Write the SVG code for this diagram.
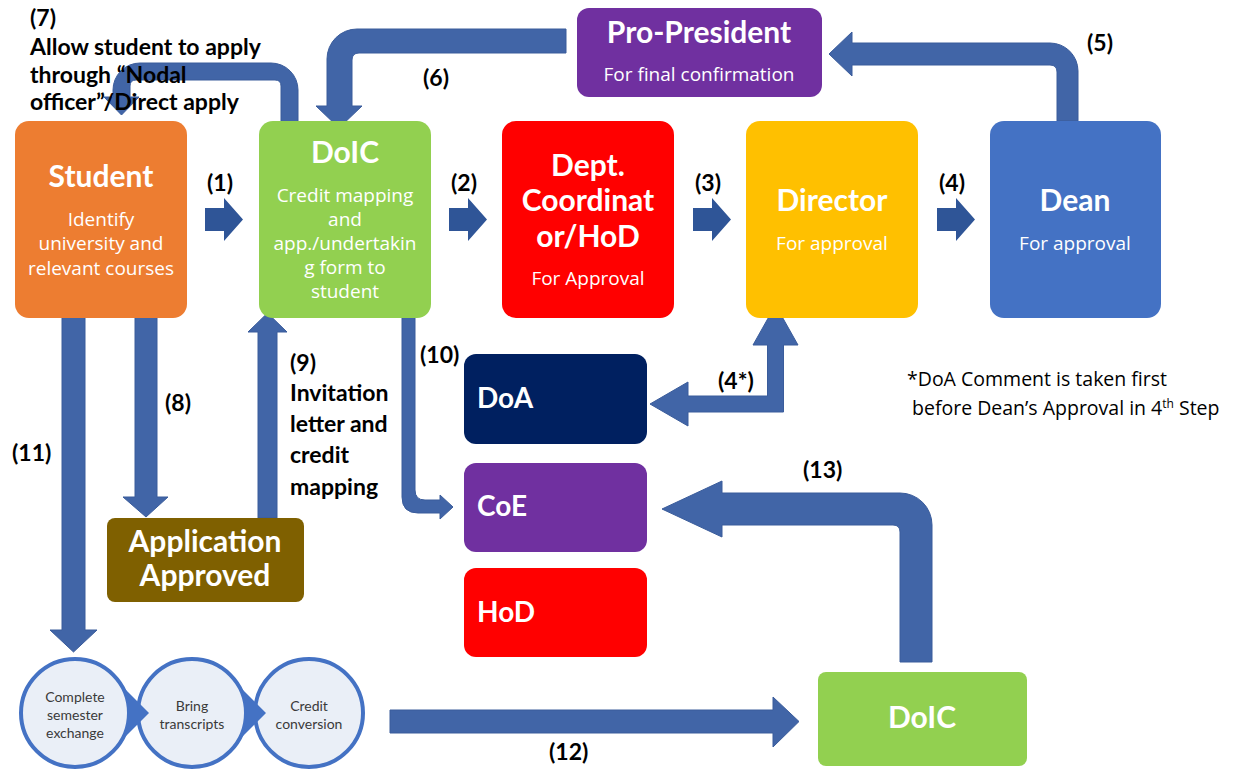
<svg xmlns="http://www.w3.org/2000/svg" width="1244" height="769" viewBox="0 0 1244 769">
  <style>
    text { font-family: Lato, "Open Sans", "Liberation Sans", sans-serif; }
    .box { stroke: none; }
    .title { fill: #ffffff; font-weight: bold; font-size: 30px; text-anchor: middle; }
    .name { fill: #ffffff; font-weight: bold; font-size: 28px; text-anchor: start; }
    .sub { fill: #ffffff; font-family: "Open Sans", Lato, sans-serif; font-size: 19px; text-anchor: middle; }
    .lbl { fill: #000000; font-weight: bold; font-size: 23px; }
    .note { fill: #000000; font-family: "Open Sans", Lato, sans-serif; font-size: 19.5px; }
    .arrow { fill: #4165a7; stroke: #3a5c9b; stroke-width: 1; }
    .step { fill: #2f5597; }
    .circ { fill: #eaeff7; stroke: #4472c4; stroke-width: 4; }
    .ctext { fill: #3a3a3a; font-size: 14px; text-anchor: middle; }
  </style>

  <rect width="1244" height="769" fill="#ffffff"/>

  <!-- connectors -->
  <g id="connectors">
    <!-- (1)-(4) forward steps -->
    <polygon class="step" points="205,208 224,208 224,198 243,219.5 224,241 224,231 205,231"/>
    <polygon class="step" points="449,208 468,208 468,198 487,219.5 468,241 468,231 449,231"/>
    <polygon class="step" points="693,208 712,208 712,198 731,219.5 712,241 712,231 693,231"/>
    <polygon class="step" points="937,208 956,208 956,198 975,219.5 956,241 956,231 937,231"/>
    <!-- (5) Dean to Pro-President -->
    <path class="arrow" d="M1057,121 L1057,72 Q1057,65 1050,65 L852,65 L852,76 L829,54 L852,32 L852,43 L1050,43 A28,28 0 0 1 1078,71 L1078,121 Z"/>
    <!-- (6) Pro-President to DoIC -->
    <path class="arrow" d="M566,29 L357,29 A30,30 0 0 0 327,59 L327,106 L316,106 L339,128 L362,106 L352,106 L352,60 Q352,53 359,53 L566,53 Z"/>
    <!-- (7) DoIC to Student -->
    <path class="arrow" d="M281,130 L281,86 Q281,80 275,80 L136,80 Q130,80 130,86 L130,97 L139,97 L121.5,115 L104,97 L113,97 L113,90 A27,27 0 0 1 140,63 L271,63 A27,27 0 0 1 298,90 L298,130 Z"/>
    <!-- (8) Student to Application Approved -->
    <path class="arrow" d="M135,312 L157,312 L157,497 L168,497 L146,517 L123,497 L135,497 Z"/>
    <!-- (11) Student to exchange cycle -->
    <path class="arrow" d="M62,312 L85,312 L85,630 L97,630 L73.5,652 L50,630 L62,630 Z"/>
    <!-- (9) Application Approved to DoIC -->
    <path class="arrow" d="M258,518 L258,332 L248,332 L267.5,313 L287,332 L277,332 L277,518 Z"/>
    <!-- (10) DoIC to CoE -->
    <path class="arrow" d="M402,312 L415,312 L415,490 Q415,500 425,500 L440,500 L440,495 L453,507 L440,519 L440,513 L418,513 Q402,513 402,497 Z"/>
    <!-- (4*) Director and DoA -->
    <path class="arrow" d="M767.5,345 L753,345 L775.5,305 L798,345 L783.5,345 L783.5,412 L688,412 L688,426 L650,404 L688,382 L688,396 L767.5,396 Z"/>
    <!-- (12) cycle to DoIC -->
    <path class="arrow" d="M390,710 L773,710 L773,697 L799,721.5 L773,747 L773,733 L390,733 Z"/>
    <!-- (13) DoIC to CoE -->
    <path class="arrow" d="M900,662 L900,532 Q900,525 893,525 L722,525 L722,537 L662,509 L722,481 L722,493 L900,493 A32,32 0 0 1 932,525 L932,662 Z"/>
  </g>

  <!-- step labels -->
  <g id="labels">
    <text class="lbl" x="30" y="26" font-size="20">(7)</text>
    <text class="lbl" x="30" y="55" font-size="20">Allow student to apply</text>
    <text class="lbl" x="30" y="83" font-size="20">through “Nodal</text>
    <text class="lbl" x="30" y="110" font-size="20">officer”/Direct apply</text>
    <text class="lbl" x="207" y="191">(1)</text>
    <text class="lbl" x="451" y="191">(2)</text>
    <text class="lbl" x="695" y="191">(3)</text>
    <text class="lbl" x="939" y="191">(4)</text>
    <text class="lbl" x="1087" y="51">(5)</text>
    <text class="lbl" x="423" y="86">(6)</text>
    <text class="lbl" x="165" y="411">(8)</text>
    <text class="lbl" x="12" y="461">(11)</text>
    <text class="lbl" x="290" y="371" font-size="24.5">(9)</text>
    <text class="lbl" x="290" y="401" font-size="24.5">Invitation</text>
    <text class="lbl" x="290" y="432" font-size="24.5">letter and</text>
    <text class="lbl" x="290" y="463" font-size="24.5">credit</text>
    <text class="lbl" x="290" y="495" font-size="24.5">mapping</text>
    <text class="lbl" x="420" y="363">(10)</text>
    <text class="lbl" x="718" y="389">(4*)</text>
    <text class="lbl" x="803" y="478">(13)</text>
    <text class="lbl" x="549" y="760">(12)</text>
  </g>

  <g id="student">
    <rect class="box" x="15" y="121" width="172" height="197" rx="14" fill="#ed7d31"/>
    <text class="title" x="101" y="187">Student</text>
    <text class="sub" x="101" y="226">Identify</text>
    <text class="sub" x="101" y="250">university and</text>
    <text class="sub" x="101" y="275">relevant courses</text>
  </g>

  <g id="doic">
    <rect class="box" x="259" y="121" width="172" height="197" rx="14" fill="#92d050"/>
    <text class="title" x="345" y="163">DoIC</text>
    <text class="sub" x="345" y="202" font-size="18">Credit mapping</text>
    <text class="sub" x="345" y="226" font-size="18">and</text>
    <text class="sub" x="345" y="250" font-size="18">app./undertakin</text>
    <text class="sub" x="345" y="274" font-size="18">g form to</text>
    <text class="sub" x="345" y="298" font-size="18">student</text>
  </g>

  <g id="dept-coordinator">
    <rect class="box" x="502" y="121" width="172" height="197" rx="14" fill="#ff0000"/>
    <text class="title" x="588" y="176">Dept.</text>
    <text class="title" x="588" y="211">Coordinat</text>
    <text class="title" x="588" y="247">or/HoD</text>
    <text class="sub" x="588" y="285">For Approval</text>
  </g>

  <g id="director">
    <rect class="box" x="746" y="121" width="172" height="197" rx="14" fill="#ffc000"/>
    <text class="title" x="832" y="211">Director</text>
    <text class="sub" x="832" y="250">For approval</text>
  </g>

  <g id="dean">
    <rect class="box" x="990" y="121" width="171" height="197" rx="14" fill="#4472c4"/>
    <text class="title" x="1075" y="211">Dean</text>
    <text class="sub" x="1075" y="250">For approval</text>
  </g>

  <g id="pro-president">
    <rect class="box" x="577" y="8" width="245" height="89" rx="12" fill="#7030a0"/>
    <text class="title" x="699" y="43" font-size="24">Pro-President</text>
    <text class="sub" x="699" y="81" font-size="20.5">For final confirmation</text>
  </g>

  <g id="doa">
    <rect class="box" x="464" y="354" width="183" height="90" rx="12" fill="#002060"/>
    <text class="name" x="477" y="408">DoA</text>
  </g>

  <g id="coe">
    <rect class="box" x="464" y="463" width="183" height="89" rx="12" fill="#7030a0"/>
    <text class="name" x="477" y="516">CoE</text>
  </g>

  <g id="hod">
    <rect class="box" x="464" y="568" width="183" height="89" rx="12" fill="#ff0000"/>
    <text class="name" x="477" y="622">HoD</text>
  </g>

  <g id="application-approved">
    <rect class="box" x="107" y="518" width="197" height="84" rx="8" fill="#7f6000"/>
    <text class="title" x="205" y="552" font-size="27.5">Application</text>
    <text class="title" x="205" y="586" font-size="27.5">Approved</text>
  </g>

  <g id="doic-final">
    <rect class="box" x="818" y="672" width="209" height="94" rx="8" fill="#92d050"/>
    <text class="title" x="922" y="728" font-size="28">DoIC</text>
  </g>

  <g id="exchange-cycle">
    <circle class="circ" cx="75" cy="713" r="54"/>
    <circle class="circ" cx="192" cy="713" r="54"/>
    <circle class="circ" cx="309" cy="713" r="54"/>
    <path fill="#4472c4" d="M123,687 L149,713 L123,739 A54,54 0 0 0 123,687 Z"/>
    <path fill="#4472c4" d="M240,687 L266,713 L240,739 A54,54 0 0 0 240,687 Z"/>
    <text class="ctext" x="75" y="702">Complete</text>
    <text class="ctext" x="75" y="720">semester</text>
    <text class="ctext" x="75" y="738">exchange</text>
    <text class="ctext" x="192" y="711">Bring</text>
    <text class="ctext" x="192" y="729">transcripts</text>
    <text class="ctext" x="309" y="711">Credit</text>
    <text class="ctext" x="309" y="729">conversion</text>
  </g>

  <g id="doa-note">
    <text class="note" x="907" y="386">*DoA Comment is taken first</text>
    <text class="note" x="912" y="415">before Dean’s Approval in 4<tspan font-size="12" dy="-7">th</tspan><tspan dy="7"> Step</tspan></text>
  </g>
</svg>
